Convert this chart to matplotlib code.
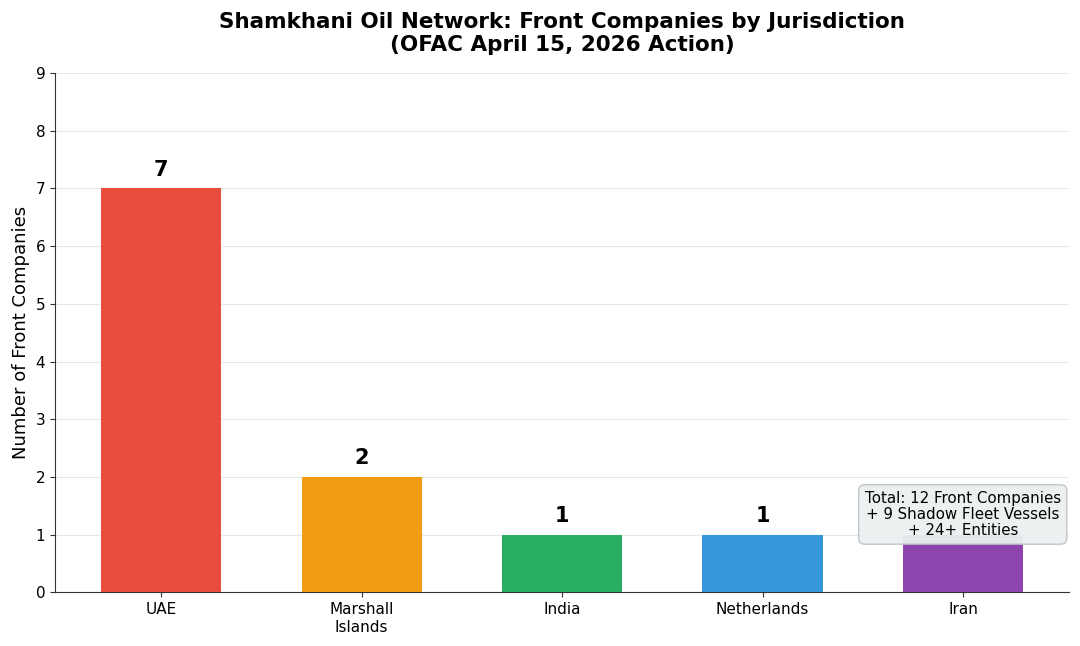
import matplotlib
matplotlib.use('Agg')
import matplotlib.pyplot as plt

jurisdictions = ['UAE', 'Marshall\nIslands', 'India', 'Netherlands', 'Iran']
companies = [7, 2, 1, 1, 1]
colors = ['#e74c3c', '#f39c12', '#27ae60', '#3498db', '#8e44ad']
note = 'Total: 12 Front Companies\n+ 9 Shadow Fleet Vessels\n+ 24+ Entities'

fig, ax = plt.subplots(figsize=(10.8, 6.46), dpi=100)
bars = ax.bar(jurisdictions, companies, color=colors, width=0.6, zorder=3)

# value labels above bars (the Iran one sits under the note box in the original)
for bar, val in list(zip(bars, companies))[:-1]:
    ax.text(bar.get_x() + bar.get_width() / 2, val + 0.15, str(val),
            ha='center', va='bottom', fontsize=15, fontweight='bold', zorder=4)

ax.set_ylim(0, 9)
ax.set_yticks(range(0, 10))
ax.set_ylabel('Number of Front Companies', fontsize=13)
ax.set_title('Shamkhani Oil Network: Front Companies by Jurisdiction\n(OFAC April 15, 2026 Action)',
             fontsize=15.5, fontweight='bold', pad=16)
ax.tick_params(labelsize=11, color='#333333')
ax.grid(axis='y', alpha=0.3, zorder=0)
ax.spines['top'].set_visible(False)
ax.spines['right'].set_visible(False)
ax.spines['left'].set_color('#333333')
ax.spines['bottom'].set_color('#333333')

ax.text(0.895, 0.15, note, transform=ax.transAxes, ha='center', va='center',
        fontsize=10.8, zorder=5, linespacing=1.1,
        bbox=dict(boxstyle='round,pad=0.4', facecolor='#ecf0f1', edgecolor='#bdc3c7', alpha=0.95))

plt.subplots_adjust(left=0.051, right=0.99, top=0.887, bottom=0.083)
plt.savefig('out.png', dpi=100)
